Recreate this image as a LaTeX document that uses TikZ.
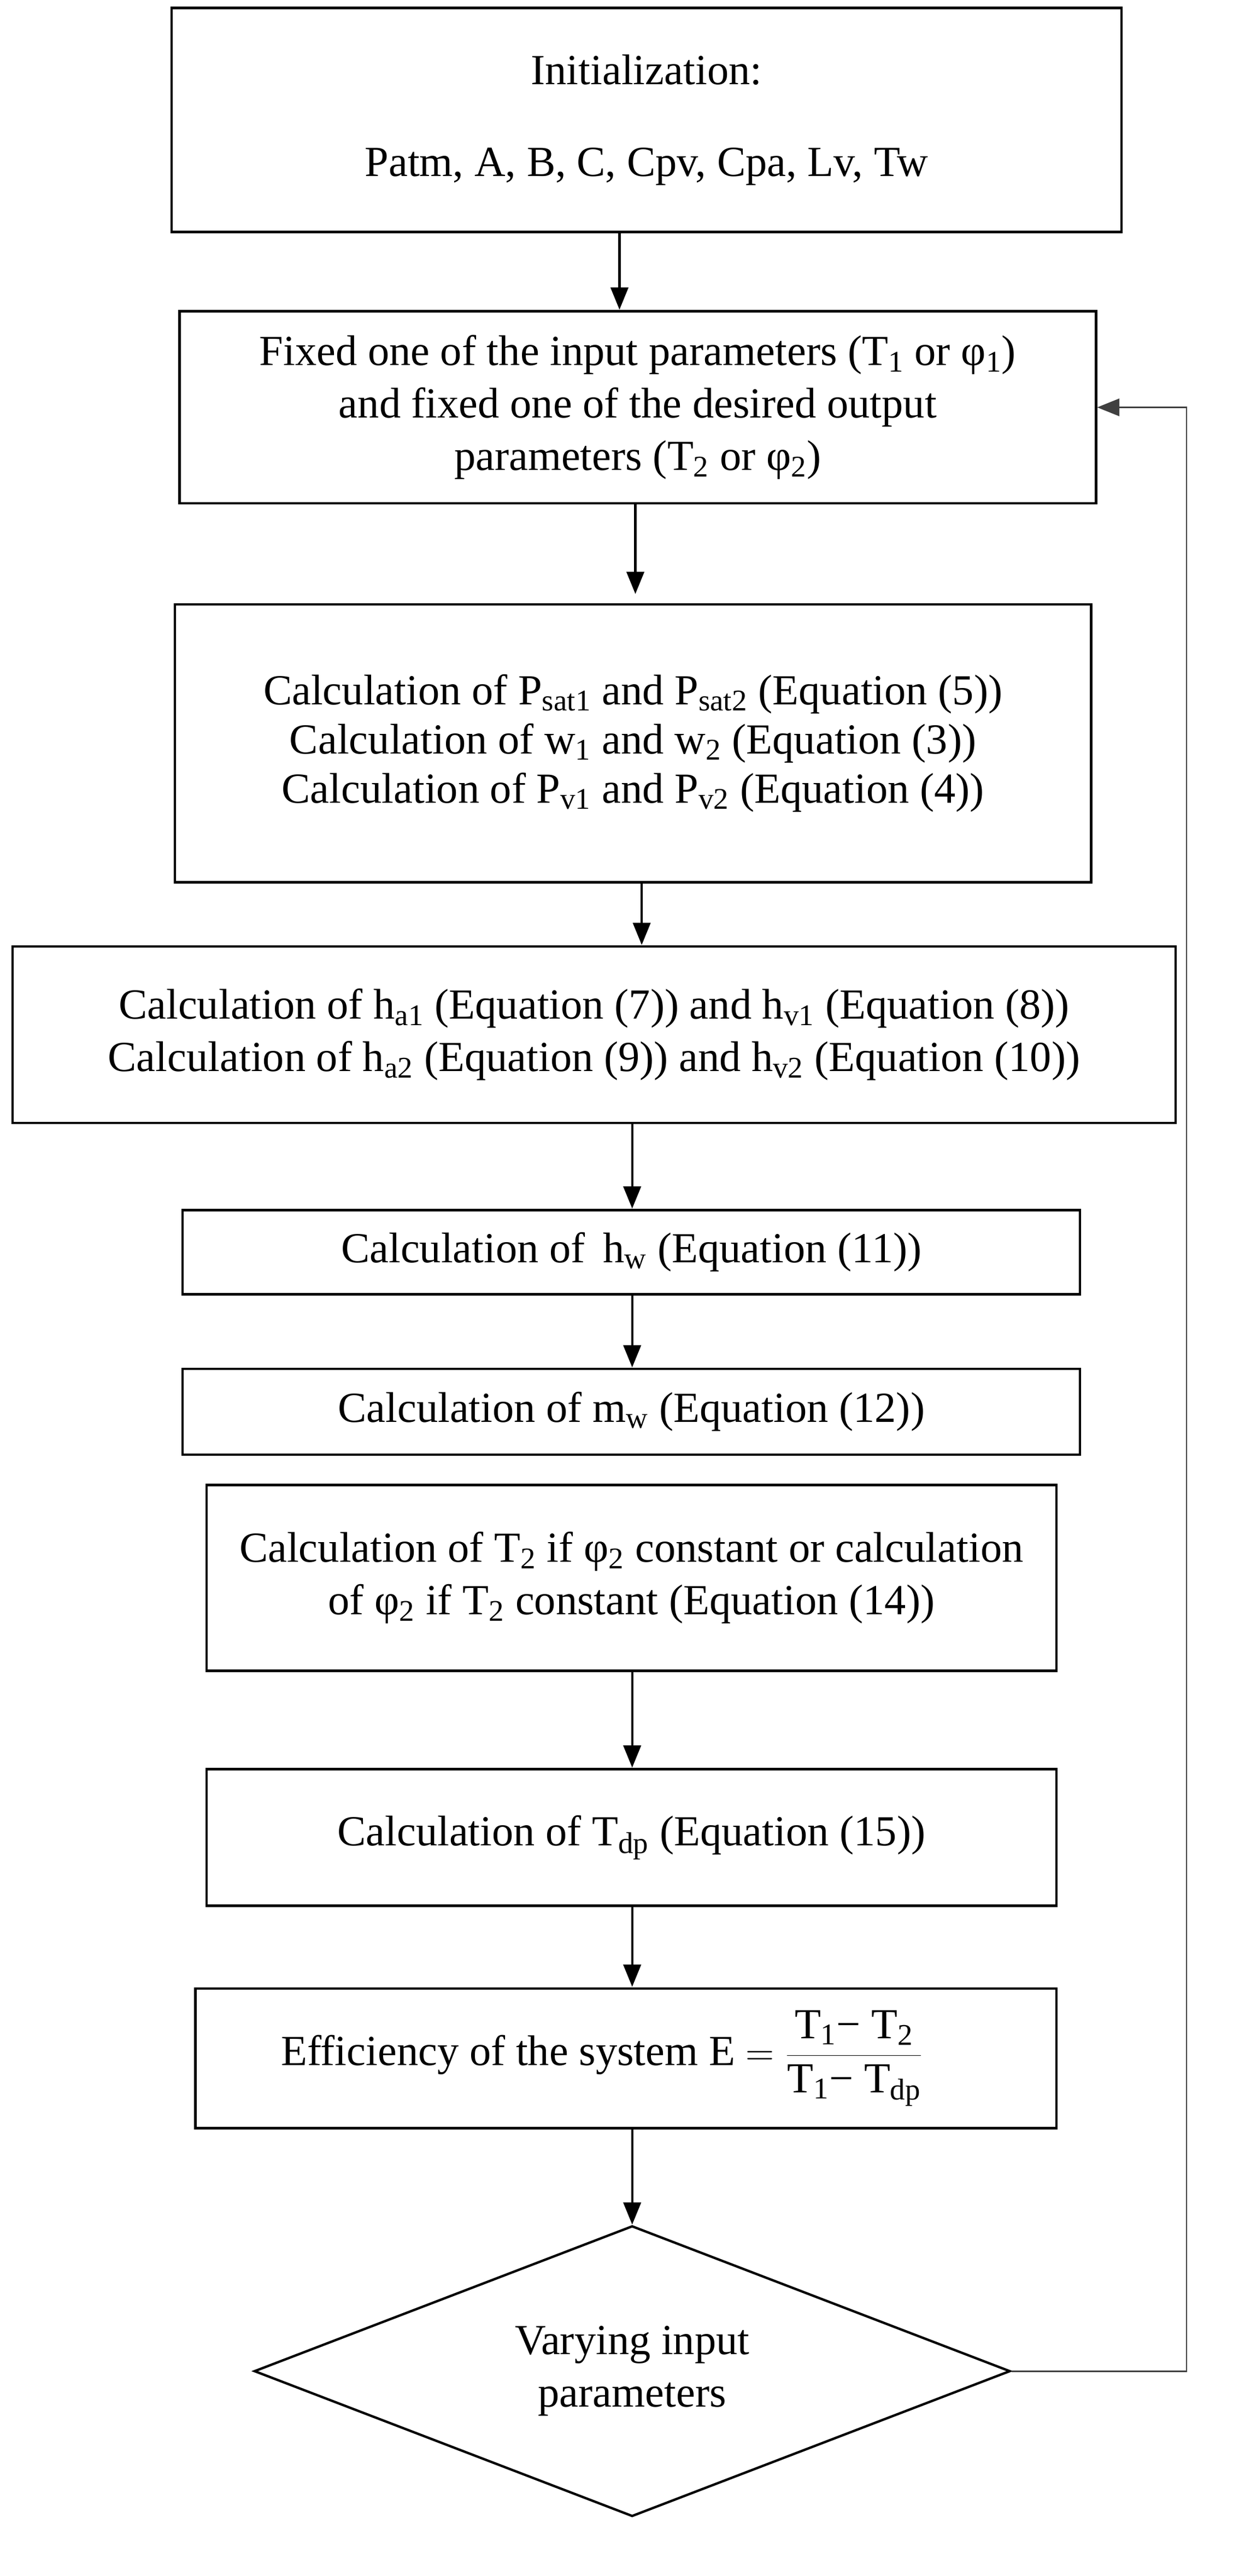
\documentclass[tikz,border=0pt]{standalone}
\usepackage{fontspec}
\setmainfont{Liberation Serif}
\usetikzlibrary{arrows.meta,shapes.geometric}
\newcommand{\sbs}[1]{\textsubscript{#1}}
\begin{document}
\begin{tikzpicture}[x=1pt,y=-1pt,
 box/.style={draw,line width=1.5pt,align=center,inner sep=0pt,font=\fontsize{27}{33}\selectfont},
 arr/.style={line width=1.5pt,-{Triangle[length=14pt,width=11pt]}},
 fbl/.style={line width=1pt,draw=black!75,-{Triangle[length=14pt,width=11pt]}}]
\useasboundingbox (0,0) rectangle (780,1622);
\node[box,minimum width=598,minimum height=141] (b1) at (407,75.5) {Initialization:\\[25pt]Patm, A, B, C, Cpv, Cpa, Lv, Tw};
\node[box,minimum width=577,minimum height=121] (b2) at (401.5,256.5) {Fixed one of the input parameters (T\sbs{1} or φ\sbs{1})\\and fixed one of the desired output\\parameters (T\sbs{2} or φ\sbs{2})};
\node[box,minimum width=577,minimum height=175,font=\fontsize{27}{31}\selectfont] (b3) at (398.5,468) {Calculation of P\sbs{sat1} and P\sbs{sat2} (Equation (5))\\Calculation of w\sbs{1} and w\sbs{2} (Equation (3))\\Calculation of P\sbs{v1} and P\sbs{v2} (Equation (4))};
\node[box,minimum width=732,minimum height=111] (b4) at (374,651.5) {Calculation of h\sbs{a1} (Equation (7)) and h\sbs{v1} (Equation (8))\\Calculation of h\sbs{a2} (Equation (9)) and h\sbs{v2} (Equation (10))};
\node[box,minimum width=565,minimum height=53] (b5) at (397.5,788.5) {Calculation of\, h\sbs{w} (Equation (11))};
\node[box,minimum width=565,minimum height=54] (b6) at (397.5,889) {Calculation of m\sbs{w} (Equation (12))};
\node[box,minimum width=535,minimum height=117] (b7) at (397.5,993.5) {Calculation of T\sbs{2} if φ\sbs{2} constant or calculation\\of φ\sbs{2} if T\sbs{2} constant (Equation (14))};
\node[box,minimum width=535,minimum height=86] (b8) at (397.5,1157) {Calculation of T\sbs{dp} (Equation (15))};
\node[box,minimum width=542,minimum height=88] (b9) at (394,1296) {Efficiency of the system E $=\displaystyle\frac{\mbox{T\sbs{1}− T\sbs{2}}}{\mbox{T\sbs{1}− T\sbs{dp}}}$\hspace*{30pt}};
\node[box,shape=diamond,minimum width=476,minimum height=183,aspect=2.6] (d) at (398,1493) {Varying input\\parameters};
\coordinate (fb) at (747,0);
\draw[arr] (390,146) -- (390,195);
\draw[arr] (400,317) -- (400,374);
\draw[arr] (404,556) -- (404,595);
\draw[arr] (398,707) -- (398,761);
\draw[arr] (398,815) -- (398,861);
\draw[arr] (398,1052) -- (398,1113);
\draw[arr] (398,1200) -- (398,1251);
\draw[arr] (398,1340) -- (d.north);
\draw[fbl] (d.east) -| (fb |- b2.east) -- (b2.east);
\end{tikzpicture}
\end{document}
